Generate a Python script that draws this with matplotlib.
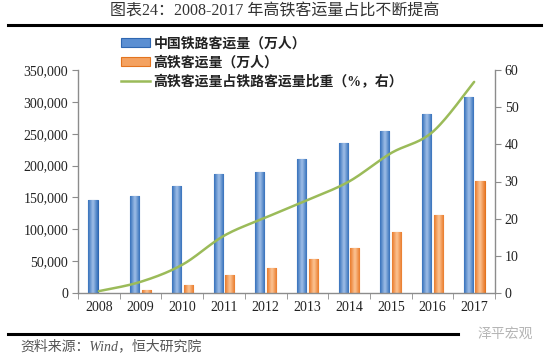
import numpy as np
import matplotlib
matplotlib.use("Agg")
import matplotlib.pyplot as plt
from matplotlib.patches import Patch
from matplotlib.lines import Line2D
from matplotlib.ticker import FuncFormatter
from matplotlib.colors import LinearSegmentedColormap

# ---------------- data ----------------
years = ["2008", "2009", "2010", "2011", "2012", "2013", "2014", "2015", "2016", "2017"]
rail_total = [146193, 152451, 167609, 186226, 189337, 210597, 235704, 253484, 281405, 308379]
hsr = [734, 4651, 13323, 28552, 38815, 52962, 70378, 96139, 122128, 175216]
ratio = [0.5, 3.0, 7.6, 15.4, 20.3, 25.0, 30.0, 37.6, 43.3, 56.8]

title = "图表24：2008-2017 年高铁客运量占比不断提高"
legend_labels = ["中国铁路客运量（万人）", "高铁客运量（万人）", "高铁客运量占铁路客运量比重（%，右）"]
source = "资料来源：Wind，恒大研究院"
watermark = "泽平宏观"

FAM = ["Liberation Serif", "Noto Sans CJK SC", "DejaVu Sans"]
plt.rcParams["font.family"] = FAM

W, H = 550, 359
fig = plt.figure(figsize=(W / 100, H / 100), dpi=100)
fig.patch.set_facecolor("white")

L, R, T, B = 78, 495, 70, 293
ax = fig.add_axes([L / W, 1 - B / H, (R - L) / W, (B - T) / H])
ax2 = ax.twinx()

x = np.arange(len(years))
bw = 0.22
off = 0.14

ax.set_xlim(-0.5, len(years) - 0.5)
ax.set_ylim(0, 350000)
ax2.set_ylim(0, 60)

blue_bars = ax.bar(x - off, rail_total, width=bw, color="#5B8FD2", edgecolor="#2F67B1", linewidth=0.8, zorder=2)
orange_bars = ax.bar(x + off, hsr, width=bw, color="#F4A261", edgecolor="#E3741F", linewidth=0.8, zorder=2)

# horizontal gradient inside bars
def gradient(bars, edge, center):
    cmap = LinearSegmentedColormap.from_list("g", [edge, center, edge])
    grad = np.linspace(0, 1, 64).reshape(1, -1)
    for b in bars:
        x0, y0 = b.get_x(), b.get_y()
        w, h = b.get_width(), b.get_height()
        if h <= 0:
            continue
        im = ax.imshow(grad, cmap=cmap, extent=[x0, x0 + w, y0, y0 + h],
                       aspect="auto", zorder=2.5, interpolation="bicubic")
        im.set_clip_path(b)

gradient(blue_bars, "#3470BA", "#A2C0E8")
gradient(orange_bars, "#E97A2A", "#FCC596")
ax.set_xlim(-0.5, len(years) - 0.5)
ax.set_ylim(0, 350000)

# smooth line (Catmull-Rom style rendering like Excel smoothing)
def smooth(xs, ys, n=30):
    xs = np.asarray(xs, float)
    ys = np.asarray(ys, float)
    px = np.concatenate([[xs[0]], xs, [xs[-1]]])
    py = np.concatenate([[ys[0]], ys, [ys[-1]]])
    ox, oy = [], []
    for i in range(1, len(px) - 2):
        p0, p1, p2, p3 = [np.array([px[j], py[j]]) for j in (i - 1, i, i + 1, i + 2)]
        c1 = p1 + (p2 - p0) / 6.0
        c2 = p2 - (p3 - p1) / 6.0
        t = np.linspace(0, 1, n)[:, None]
        pts = (1 - t) ** 3 * p1 + 3 * (1 - t) ** 2 * t * c1 + 3 * (1 - t) * t ** 2 * c2 + t ** 3 * p2
        ox.extend(pts[:, 0]); oy.extend(pts[:, 1])
    return ox, oy

sx, sy = smooth(x, ratio)
ax2.plot(sx, sy, color="#9BBB59", linewidth=1.8, zorder=3, solid_capstyle="round")
ax2.set_zorder(ax.get_zorder() + 1)
ax2.patch.set_visible(False)

# axes styling
spine_c = "#8C8C8C"
for a in (ax, ax2):
    a.spines["top"].set_visible(False)
    for s in ("left", "right", "bottom"):
        a.spines[s].set_color(spine_c)
        a.spines[s].set_linewidth(1.0)
ax.spines["right"].set_visible(False)
ax2.spines["left"].set_visible(False)
ax2.spines["bottom"].set_visible(False)

ax.set_yticks(np.arange(0, 350001, 50000))
ax.yaxis.set_major_formatter(FuncFormatter(lambda v, p: f"{int(v):,}"))
ax2.set_yticks(np.arange(0, 61, 10))
ax.set_xticks(x)
ax.set_xticklabels(years)
ax.set_xticks(np.arange(-0.5, len(years), 1.0), minor=True)
ax.tick_params(axis="x", which="major", length=0, pad=6, labelsize=10, labelcolor="#222222")
ax.tick_params(axis="x", which="minor", length=4, color=spine_c, direction="out")
ax.tick_params(axis="y", length=4, color=spine_c, labelsize=10, labelcolor="#222222", pad=3)
ax2.tick_params(axis="y", length=4, color=spine_c, labelsize=10, labelcolor="#222222", pad=3)

# legend
handles = [Patch(facecolor="#5B8FD2", edgecolor="#2F67B1", linewidth=0.8),
           Patch(facecolor="#F4A261", edgecolor="#E3741F", linewidth=0.8),
           Line2D([0], [0], color="#9BBB59", linewidth=1.8)]
leg = fig.legend(handles, legend_labels, loc="upper left", bbox_to_anchor=(121 / W, 1 - 37 / H),
                 frameon=False, fontsize=10, handlelength=2.1, handleheight=0.55,
                 handletextpad=0.25, labelspacing=0.38, borderpad=0, borderaxespad=0)
for t in leg.get_texts():
    t.set_fontweight("bold")
    t.set_color("#222222")

# title and rules
fig.text(0.5, 1 - 11 / H, title, ha="center", va="center", fontsize=11.5, color="#333333")
fig.add_artist(Line2D([8 / W, 541 / W], [1 - 25 / H, 1 - 25 / H], color="black", linewidth=2.2))
fig.add_artist(Line2D([8 / W, 458 / W], [1 - 334 / H, 1 - 334 / H], color="black", linewidth=2.2))
fig.text(20 / W, 1 - 346 / H, source, ha="left", va="center", fontsize=10, color="#555555",
         style="italic")
fig.text(478 / W, 1 - 334 / H, watermark, ha="left", va="center", fontsize=10, color="#B5B5B5")

fig.savefig("out.png", dpi=100, facecolor="white")
